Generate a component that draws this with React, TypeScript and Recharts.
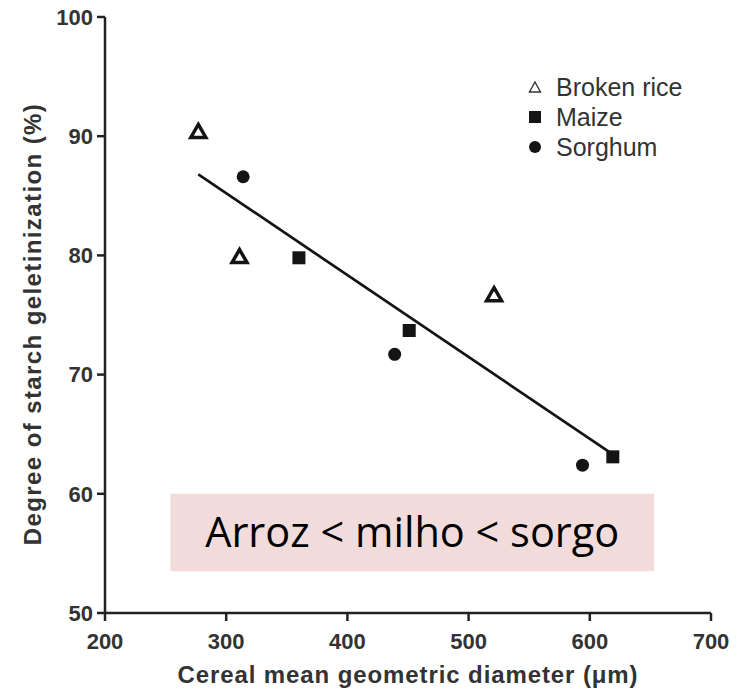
import { ScatterChart, Scatter, XAxis, YAxis, Legend, ReferenceArea, Label } from 'recharts';

// values
const riceX = [277, 311, 521];
const riceY = [90.4, 79.9, 76.7];
const maizeX = [360, 451, 619];
const maizeY = [79.8, 73.7, 63.1];
const sorghumX = [314, 439, 594];
const sorghumY = [86.6, 71.7, 62.4];
// end points of the fitted line
const fitX = [277, 619];
const fitY = [86.8, 63.3];

const xTicks = [200, 300, 400, 500, 600, 700];
const yTicks = [50, 60, 70, 80, 90, 100];

const note = 'Arroz < milho < sorgo';
const noteBox = { x1: 254, x2: 653, y1: 53.5, y2: 60 };

const toPoints = (xs: number[], ys: number[]) => xs.map((x, i) => ({ x, y: ys[i] }));

const rice = toPoints(riceX, riceY);
const maize = toPoints(maizeX, maizeY);
const sorghum = toPoints(sorghumX, sorghumY);
const fit = toPoints(fitX, fitY);

const INK = '#141414';
const FONT = '"Liberation Sans", Arial, sans-serif';

const Triangle = (props: any) => {
  const { cx, cy } = props;
  if (cx == null || cy == null) return <g />;
  return (
    <path
      d={`M${cx},${cy - 7} L${cx + 7.5},${cy + 6} L${cx - 7.5},${cy + 6} Z`}
      fill="#fff"
      stroke={INK}
      strokeWidth={3.5}
      strokeLinejoin="miter"
    />
  );
};

const Square = (props: any) => {
  const { cx, cy } = props;
  if (cx == null || cy == null) return <g />;
  return <rect x={cx - 6.5} y={cy - 6.5} width={13} height={13} fill={INK} />;
};

const Dot = (props: any) => {
  const { cx, cy } = props;
  if (cx == null || cy == null) return <g />;
  return <circle cx={cx} cy={cy} r={6.5} fill={INK} />;
};

const legendIcon = (name: string) => {
  if (name === 'Broken rice')
    return (
      <svg width={14} height={14}>
        <path d="M7,2 L12.5,12 L1.5,12 Z" fill="none" stroke="#333" strokeWidth={1.4} />
      </svg>
    );
  if (name === 'Maize')
    return (
      <svg width={14} height={14}>
        <rect x={1} y={1} width={12} height={12} fill={INK} />
      </svg>
    );
  return (
    <svg width={14} height={14}>
      <circle cx={7} cy={7} r={6} fill={INK} />
    </svg>
  );
};

const renderLegend = (props: any) => {
  const items = (props.payload || []).filter((p: any) => p.value && p.value !== 'fit');
  return (
    <div style={{ fontFamily: FONT, fontSize: 25, color: '#333' }}>
      {items.map((p: any) => (
        <div key={p.value} style={{ display: 'flex', alignItems: 'center', height: 30 }}>
          <span style={{ width: 28, display: 'flex' }}>{legendIcon(p.value)}</span>
          <span>{p.value}</span>
        </div>
      ))}
    </div>
  );
};

const YTitle = (props: any) => {
  const { viewBox } = props;
  const x = viewBox.x + 41;
  const y = viewBox.y + viewBox.height / 2 + 9;
  return (
    <text
      x={x}
      y={y}
      transform={`rotate(-90, ${x}, ${y})`}
      textAnchor="middle"
      fontFamily={FONT}
      fontWeight="bold"
      fontSize={24}
      letterSpacing={1.4}
      fill="#333"
    >
      Degree of starch geletinization (%)
    </text>
  );
};

export default function App() {
  return (
    <div style={{ position: 'absolute', left: 0, top: 0, background: '#fff' }}>
      <ScatterChart width={744} height={691} margin={{ top: 17, right: 33, left: 0, bottom: 0 }}>
        <ReferenceArea
          x1={noteBox.x1}
          x2={noteBox.x2}
          y1={noteBox.y1}
          y2={noteBox.y2}
          fill="#f2dcdb"
          fillOpacity={1}
          stroke="none"
        >
          <Label
            value={note}
            position="center"
            style={{ fontFamily: '"Open Sans", sans-serif', fontSize: 41.5, fill: '#000' }}
          />
        </ReferenceArea>
        <XAxis
          type="number"
          dataKey="x"
          domain={[200, 700]}
          ticks={xTicks}
          height={78}
          axisLine={{ stroke: '#222', strokeWidth: 2.5 }}
          tickLine={{ stroke: '#222', strokeWidth: 2.5 }}
          tickSize={8}
          tickMargin={12}
          tick={{ fill: '#333', fontSize: 22, fontWeight: 'bold', fontFamily: FONT }}
        >
          <Label
            value="Cereal mean geometric diameter (μm)"
            position="insideBottom"
            offset={8}
            style={{ fontFamily: FONT, fontWeight: 'bold', fontSize: 24, letterSpacing: 0.9, fill: '#333' }}
          />
        </XAxis>
        <YAxis
          type="number"
          dataKey="y"
          domain={[50, 100]}
          ticks={yTicks}
          width={105}
          axisLine={{ stroke: '#222', strokeWidth: 2.5 }}
          tickLine={{ stroke: '#222', strokeWidth: 2.5 }}
          tickSize={8}
          tickMargin={4}
          tick={{ fill: '#333', fontSize: 22, fontWeight: 'bold', fontFamily: FONT }}
        >
          <Label content={<YTitle />} />
        </YAxis>
        <Legend
          layout="vertical"
          verticalAlign="middle"
          align="center"
          wrapperStyle={{ top: 72, left: 528, width: 200 }}
          content={renderLegend}
        />
        <Scatter
          name="fit"
          data={fit}
          line={{ stroke: INK, strokeWidth: 2.7 }}
          shape={() => <g />}
          legendType="none"
          isAnimationActive={false}
        />
        <Scatter name="Broken rice" data={rice} shape={Triangle} legendType="triangle" isAnimationActive={false} />
        <Scatter name="Maize" data={maize} shape={Square} legendType="square" isAnimationActive={false} />
        <Scatter name="Sorghum" data={sorghum} shape={Dot} legendType="circle" isAnimationActive={false} />
      </ScatterChart>
    </div>
  );
}
